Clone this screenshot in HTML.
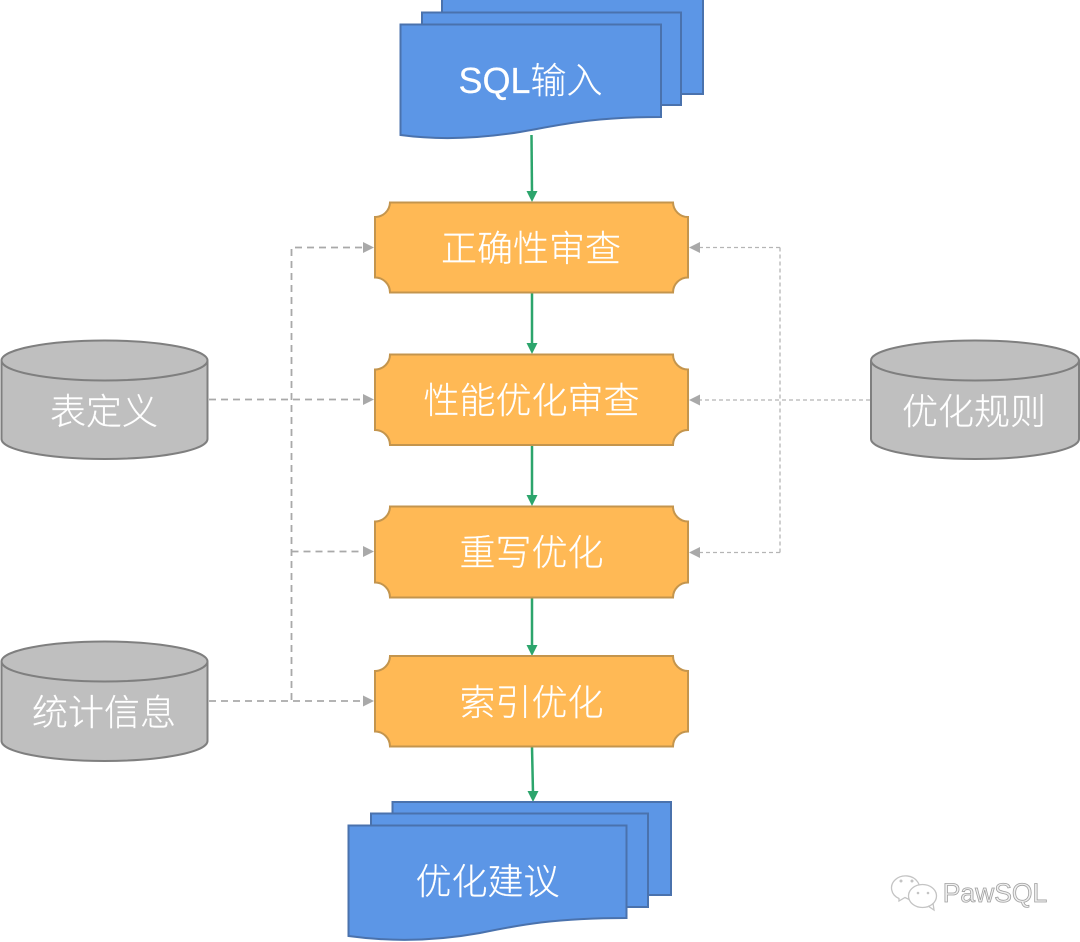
<!DOCTYPE html>
<html>
<head>
<meta charset="utf-8">
<style>
html,body{margin:0;padding:0;background:#fff;width:1080px;height:942px;overflow:hidden}
svg{display:block}
text{font-family:"Liberation Sans","Noto Sans CJK SC",sans-serif;fill:#fff;stroke:#fff;stroke-width:.2;font-size:36px;text-anchor:middle;font-weight:300}
.doc{fill:#5c96e6;stroke:#4a72ad;stroke-width:2}
.pl{fill:#ffb955;stroke:#c4954d;stroke-width:2}
.cy{fill:#bfbfbf;stroke:#7f7f7f;stroke-width:2}
.g{stroke:#2ca56c;stroke-width:2.5;fill:none}
.d1{stroke:#a9a9a9;stroke-width:1.8;stroke-dasharray:7 5;fill:none}
.d2{stroke:#b5b5b5;stroke-width:1.3;stroke-dasharray:4 3;fill:none}
</style>
</head>
<body>
<svg width="1080" height="942" viewBox="0 0 1080 942" xmlns="http://www.w3.org/2000/svg">
<!-- dashed connectors -->
<path class="d1" d="M209 399.500H366"/>
<path class="d1" d="M291.500 700V247.500H366"/>
<path class="d1" d="M291.500 551.500H366"/>
<path class="d1" d="M209 701H366"/>
<path class="d2" d="M870 400H696"/>
<path class="d2" d="M780 247.500V552.500"/>
<path class="d2" d="M780 247.500H696"/>
<path class="d2" d="M780 552.500H696"/>
<g fill="#a9a9a9">
<path d="M374 247.500l-11-5.500v11z"/>
<path d="M374 399.500l-11-5.500v11z"/>
<path d="M374 551.500l-11-5.500v11z"/>
<path d="M374 701l-11-5.500v11z"/>
<path d="M689 247.500l11-5.500v11z"/>
<path d="M689 400l11-5.500v11z"/>
<path d="M689 552.500l11-5.500v11z"/>
</g>
<!-- green connectors -->
<g>
<path class="g" d="M531.500 135L532 193"/>
<path class="g" d="M532 293V345"/>
<path class="g" d="M532 445V497"/>
<path class="g" d="M532 598V647"/>
<path class="g" d="M532 747L533 793"/>
</g>
<g fill="#2ca56c">
<path d="M532 202l-5.500-11h11z"/>
<path d="M532 354l-5.500-11h11z"/>
<path d="M532 506l-5.500-11h11z"/>
<path d="M532 656l-5.500-11h11z"/>
<path d="M533 802l-5.500-11h11z"/>
</g>
<!-- top doc -->
<path class="doc" d="M442 -1H703V94H442Z"/>
<path class="doc" d="M422 12.500H681V105H422Z"/>
<path class="doc" d="M400.500 24.500H661V117C590 117 560 125 520 132C470 140 430 139 400.500 135Z"/>
<text x="530.500" y="93">SQL输入</text>
<!-- plaques -->
<path class="pl" d="M390 202.500H673A15 15 0 0 0 688 217V277.500A15 15 0 0 0 673 292.500H390A15 15 0 0 0 375 277.500V217A15 15 0 0 0 390 202.500Z"/>
<path class="pl" d="M390 354.500H673A15 15 0 0 0 688 369.500V430A15 15 0 0 0 673 445H390A15 15 0 0 0 375 430V369.500A15 15 0 0 0 390 354.500Z"/>
<path class="pl" d="M390 506.500H673A15 15 0 0 0 688 521.500V582.500A15 15 0 0 0 673 597.500H390A15 15 0 0 0 375 582.500V521.500A15 15 0 0 0 390 506.500Z"/>
<path class="pl" d="M390 656H673A15 15 0 0 0 688 671V731.500A15 15 0 0 0 673 746.500H390A15 15 0 0 0 375 731.500V671A15 15 0 0 0 390 656Z"/>
<text x="531" y="261">正确性审查</text>
<text x="531.500" y="413">性能优化审查</text>
<text x="531.500" y="565">重写优化</text>
<text x="531.500" y="715">索引优化</text>
<!-- cylinders -->
<path class="cy" d="M1.500 360.500A103 20 0 0 1 207.500 360.500V439A103 20 0 0 1 1.500 439Z"/>
<path class="cy" d="M1.500 360.500A103 20 0 0 0 207.500 360.500"/>
<text x="104" y="424">表定义</text>
<path class="cy" d="M871 360.500A104 20 0 0 1 1079 360.500V439A104 20 0 0 1 871 439Z"/>
<path class="cy" d="M871 360.500A104 20 0 0 0 1079 360.500"/>
<text x="974" y="424">优化规则</text>
<path class="cy" d="M1.500 661.500A103 20 0 0 1 207.500 661.500V741A103 20 0 0 1 1.500 741Z"/>
<path class="cy" d="M1.500 661.500A103 20 0 0 0 207.500 661.500"/>
<text x="104" y="725">统计信息</text>
<!-- bottom doc -->
<path class="doc" d="M392.500 802H671V895H392.500Z"/>
<path class="doc" d="M371 813.500H648V907H371Z"/>
<path class="doc" d="M348.500 825.500H626.500V918C550 918 515 926 480 933C430 942 385 941 348.500 936Z"/>
<text x="487.500" y="894">优化建议</text>
<!-- watermark -->
<g fill="none" stroke="#c4c4c4" stroke-width="1.300">
<path d="M899 898.500A14 12 0 1 1 909 899.500L905 897.500L899 901Z"/>
<ellipse cx="922.500" cy="896" rx="14" ry="11.500" fill="#fff"/>
<path d="M928 906l6 4-1-7"/>
</g>
<g fill="#c4c4c4">
<circle cx="901" cy="881" r="1.500"/><circle cx="912" cy="881" r="1.500"/>
<circle cx="918" cy="893" r="1.300"/><circle cx="928" cy="893" r="1.300"/>
</g>
<text x="995" y="902" style="font-size:26.500px;fill:#f0f0f0;stroke:#a0a0a0;stroke-width:.8;font-weight:400">PawSQL</text>
</svg>
</body>
</html>
